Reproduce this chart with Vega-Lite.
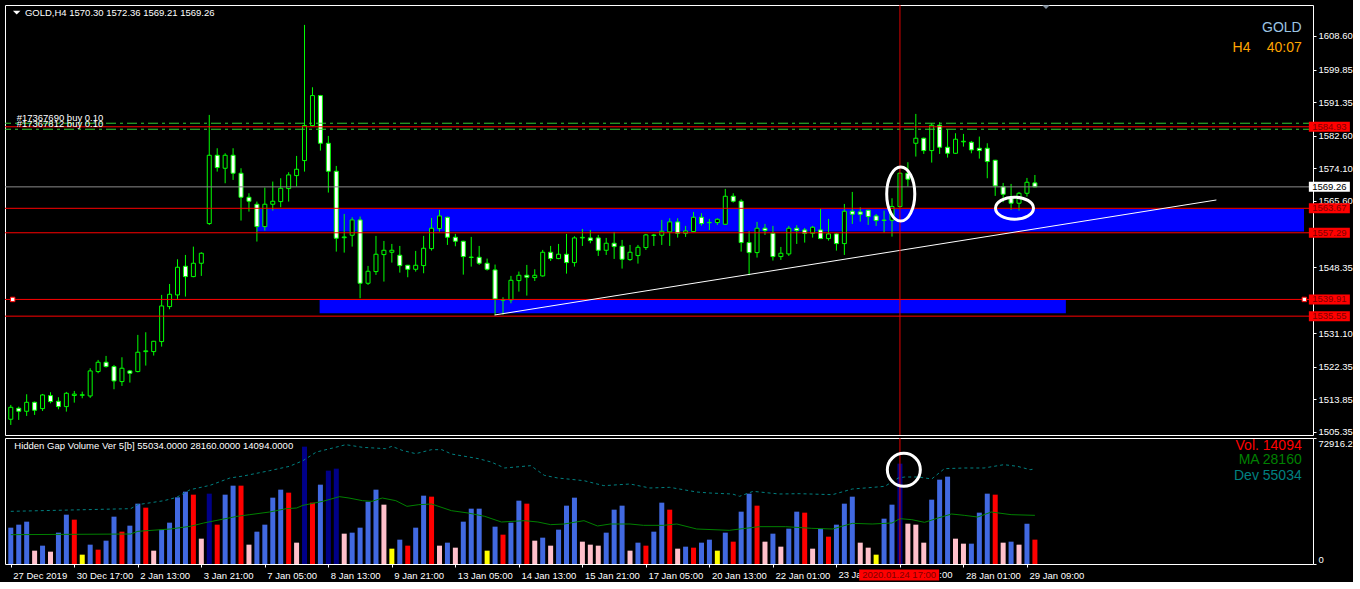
{
"$schema": "https://vega.github.io/schema/vega-lite/v6.json",
"background": "#000000",
"padding": {"left": 4, "top": 4, "right": 0, "bottom": 0},
"spacing": 3,
"bounds": "flush",
"config": {"view": {"stroke": "#FFFFFF", "strokeWidth": 1}, "font": "Liberation Sans"},
"datasets": {
"candles": [
{"i":0,"o":1508.67,"h":1512.40,"l":1507.18,"c":1511.79},
{"i":1,"o":1511.53,"h":1511.96,"l":1508.49,"c":1510.75},
{"i":2,"o":1510.75,"h":1515.18,"l":1509.53,"c":1513.09},
{"i":3,"o":1513.09,"h":1513.27,"l":1509.79,"c":1511.01},
{"i":4,"o":1511.44,"h":1515.26,"l":1510.83,"c":1515.00},
{"i":5,"o":1514.83,"h":1515.70,"l":1512.83,"c":1513.27},
{"i":6,"o":1513.35,"h":1514.40,"l":1511.27,"c":1511.96},
{"i":7,"o":1511.96,"h":1515.79,"l":1510.66,"c":1515.44},
{"i":8,"o":1514.87,"h":1516.05,"l":1513.00,"c":1515.22},
{"i":9,"o":1514.92,"h":1515.87,"l":1514.14,"c":1515.05},
{"i":10,"o":1514.74,"h":1521.97,"l":1514.22,"c":1521.27},
{"i":11,"o":1521.10,"h":1524.14,"l":1520.66,"c":1523.53},
{"i":12,"o":1523.53,"h":1525.18,"l":1522.14,"c":1522.40},
{"i":13,"o":1522.40,"h":1522.83,"l":1516.49,"c":1518.66},
{"i":14,"o":1518.49,"h":1524.83,"l":1517.36,"c":1521.97},
{"i":15,"o":1521.27,"h":1521.53,"l":1518.23,"c":1520.66},
{"i":16,"o":1521.10,"h":1530.66,"l":1520.90,"c":1526.14},
{"i":17,"o":1526.30,"h":1531.35,"l":1522.66,"c":1526.50},
{"i":18,"o":1526.31,"h":1529.10,"l":1525.27,"c":1529.00},
{"i":19,"o":1528.92,"h":1541.09,"l":1527.61,"c":1538.21},
{"i":20,"o":1538.04,"h":1543.94,"l":1537.35,"c":1541.25},
{"i":21,"o":1541.08,"h":1550.38,"l":1540.04,"c":1548.30},
{"i":22,"o":1548.56,"h":1551.51,"l":1540.65,"c":1545.86},
{"i":23,"o":1545.86,"h":1553.68,"l":1545.70,"c":1549.34},
{"i":24,"o":1549.34,"h":1552.21,"l":1546.04,"c":1551.95},
{"i":25,"o":1559.69,"h":1588.02,"l":1559.34,"c":1577.50},
{"i":26,"o":1577.50,"h":1579.33,"l":1573.24,"c":1574.29},
{"i":27,"o":1574.11,"h":1578.02,"l":1570.20,"c":1577.50},
{"i":28,"o":1577.50,"h":1579.33,"l":1571.07,"c":1572.81},
{"i":29,"o":1572.81,"h":1574.11,"l":1560.47,"c":1566.55},
{"i":30,"o":1566.55,"h":1567.59,"l":1562.81,"c":1565.51},
{"i":31,"o":1564.73,"h":1565.42,"l":1555.00,"c":1558.90},
{"i":32,"o":1558.90,"h":1569.07,"l":1557.86,"c":1564.73},
{"i":33,"o":1564.73,"h":1570.64,"l":1563.07,"c":1565.51},
{"i":34,"o":1565.42,"h":1571.51,"l":1563.94,"c":1568.90},
{"i":35,"o":1568.81,"h":1573.07,"l":1565.42,"c":1572.38},
{"i":36,"o":1572.20,"h":1577.33,"l":1569.33,"c":1573.85},
{"i":37,"o":1576.11,"h":1611.49,"l":1573.24,"c":1585.24},
{"i":38,"o":1585.24,"h":1595.23,"l":1584.98,"c":1593.06},
{"i":39,"o":1593.06,"h":1593.24,"l":1578.72,"c":1580.63},
{"i":40,"o":1580.63,"h":1582.54,"l":1567.77,"c":1573.33},
{"i":41,"o":1573.33,"h":1574.72,"l":1552.38,"c":1555.86},
{"i":42,"o":1556.00,"h":1562.20,"l":1552.12,"c":1556.20},
{"i":43,"o":1556.64,"h":1561.33,"l":1553.68,"c":1560.64},
{"i":44,"o":1560.64,"h":1561.51,"l":1540.21,"c":1544.12},
{"i":45,"o":1544.12,"h":1548.65,"l":1543.69,"c":1547.25},
{"i":46,"o":1547.17,"h":1556.47,"l":1546.30,"c":1551.69},
{"i":47,"o":1551.60,"h":1555.16,"l":1544.56,"c":1552.73},
{"i":48,"o":1552.21,"h":1554.38,"l":1549.51,"c":1552.73},
{"i":49,"o":1551.43,"h":1553.86,"l":1546.90,"c":1548.73},
{"i":50,"o":1548.82,"h":1548.90,"l":1545.69,"c":1547.77},
{"i":51,"o":1547.77,"h":1552.56,"l":1547.17,"c":1548.82},
{"i":52,"o":1548.73,"h":1556.47,"l":1546.73,"c":1553.25},
{"i":53,"o":1553.16,"h":1561.16,"l":1552.64,"c":1558.47},
{"i":54,"o":1558.38,"h":1563.25,"l":1557.60,"c":1561.68},
{"i":55,"o":1561.33,"h":1561.50,"l":1554.12,"c":1556.12},
{"i":56,"o":1556.12,"h":1556.99,"l":1553.77,"c":1555.08},
{"i":57,"o":1555.08,"h":1555.20,"l":1546.38,"c":1551.08},
{"i":58,"o":1550.85,"h":1556.21,"l":1548.47,"c":1550.95},
{"i":59,"o":1550.90,"h":1553.86,"l":1548.91,"c":1549.34},
{"i":60,"o":1549.34,"h":1550.56,"l":1547.43,"c":1547.77},
{"i":61,"o":1547.60,"h":1549.00,"l":1535.87,"c":1540.04},
{"i":62,"o":1539.70,"h":1540.47,"l":1535.95,"c":1539.85},
{"i":63,"o":1539.78,"h":1546.04,"l":1538.91,"c":1544.90},
{"i":64,"o":1544.82,"h":1547.17,"l":1541.95,"c":1546.21},
{"i":65,"o":1546.21,"h":1548.91,"l":1540.91,"c":1545.69},
{"i":66,"o":1545.60,"h":1547.77,"l":1544.73,"c":1546.21},
{"i":67,"o":1546.04,"h":1552.82,"l":1545.86,"c":1552.21},
{"i":68,"o":1552.21,"h":1553.86,"l":1549.95,"c":1550.56},
{"i":69,"o":1550.56,"h":1554.38,"l":1550.40,"c":1551.69},
{"i":70,"o":1551.69,"h":1556.99,"l":1546.64,"c":1549.51},
{"i":71,"o":1549.51,"h":1556.38,"l":1548.47,"c":1555.95},
{"i":72,"o":1555.95,"h":1558.29,"l":1553.86,"c":1556.10},
{"i":73,"o":1555.95,"h":1558.03,"l":1554.56,"c":1555.25},
{"i":74,"o":1555.95,"h":1556.73,"l":1551.25,"c":1552.73},
{"i":75,"o":1552.73,"h":1555.95,"l":1551.51,"c":1554.56},
{"i":76,"o":1554.56,"h":1557.51,"l":1550.47,"c":1553.68},
{"i":77,"o":1553.77,"h":1555.42,"l":1547.95,"c":1550.38},
{"i":78,"o":1550.30,"h":1554.12,"l":1549.95,"c":1552.21},
{"i":79,"o":1551.34,"h":1554.12,"l":1549.25,"c":1553.51},
{"i":80,"o":1553.43,"h":1556.99,"l":1552.82,"c":1556.73},
{"i":81,"o":1556.70,"h":1556.99,"l":1553.86,"c":1556.60},
{"i":82,"o":1556.64,"h":1560.64,"l":1554.12,"c":1557.69},
{"i":83,"o":1557.51,"h":1561.07,"l":1553.86,"c":1560.12},
{"i":84,"o":1560.12,"h":1561.07,"l":1556.03,"c":1557.16},
{"i":85,"o":1557.16,"h":1559.08,"l":1556.21,"c":1557.77},
{"i":86,"o":1557.60,"h":1562.73,"l":1557.50,"c":1561.33},
{"i":87,"o":1561.33,"h":1562.38,"l":1559.16,"c":1559.69},
{"i":88,"o":1559.90,"h":1560.90,"l":1558.03,"c":1560.00},
{"i":89,"o":1559.95,"h":1561.07,"l":1559.34,"c":1560.81},
{"i":90,"o":1559.51,"h":1568.73,"l":1559.40,"c":1566.81},
{"i":91,"o":1566.81,"h":1567.59,"l":1565.16,"c":1565.51},
{"i":92,"o":1565.51,"h":1566.03,"l":1552.38,"c":1554.73},
{"i":93,"o":1554.73,"h":1557.69,"l":1546.21,"c":1552.12},
{"i":94,"o":1552.12,"h":1560.12,"l":1550.82,"c":1558.47},
{"i":95,"o":1558.47,"h":1559.60,"l":1556.73,"c":1557.86},
{"i":96,"o":1557.16,"h":1559.08,"l":1550.04,"c":1551.08},
{"i":97,"o":1551.08,"h":1553.60,"l":1550.21,"c":1551.95},
{"i":98,"o":1551.77,"h":1559.08,"l":1551.25,"c":1558.47},
{"i":99,"o":1558.47,"h":1559.25,"l":1554.38,"c":1557.86},
{"i":100,"o":1558.03,"h":1558.55,"l":1554.73,"c":1557.16},
{"i":101,"o":1557.16,"h":1559.08,"l":1556.03,"c":1558.73},
{"i":102,"o":1558.03,"h":1563.51,"l":1555.70,"c":1555.77},
{"i":103,"o":1555.77,"h":1560.90,"l":1555.25,"c":1556.99},
{"i":104,"o":1556.99,"h":1557.16,"l":1552.64,"c":1554.47},
{"i":105,"o":1554.47,"h":1564.81,"l":1551.51,"c":1562.90},
{"i":106,"o":1562.90,"h":1567.94,"l":1559.60,"c":1562.12},
{"i":107,"o":1562.73,"h":1563.94,"l":1560.21,"c":1562.12},
{"i":108,"o":1563.16,"h":1563.25,"l":1559.34,"c":1561.51},
{"i":109,"o":1561.68,"h":1562.20,"l":1559.08,"c":1560.47},
{"i":110,"o":1560.50,"h":1563.07,"l":1557.34,"c":1560.60},
{"i":111,"o":1560.55,"h":1566.29,"l":1556.29,"c":1564.12},
{"i":112,"o":1564.12,"h":1573.00,"l":1563.90,"c":1572.81},
{"i":113,"o":1572.81,"h":1575.68,"l":1569.33,"c":1571.25},
{"i":114,"o":1580.63,"h":1588.28,"l":1577.16,"c":1581.94},
{"i":115,"o":1581.94,"h":1582.10,"l":1577.85,"c":1578.72},
{"i":116,"o":1578.72,"h":1585.85,"l":1575.59,"c":1585.33},
{"i":117,"o":1585.33,"h":1586.11,"l":1577.85,"c":1579.59},
{"i":118,"o":1579.59,"h":1584.28,"l":1576.89,"c":1578.02},
{"i":119,"o":1578.02,"h":1583.24,"l":1577.85,"c":1581.68},
{"i":120,"o":1581.00,"h":1583.07,"l":1579.76,"c":1581.15},
{"i":121,"o":1580.89,"h":1581.24,"l":1578.02,"c":1578.89},
{"i":122,"o":1579.33,"h":1582.37,"l":1576.63,"c":1578.72},
{"i":123,"o":1579.33,"h":1580.63,"l":1571.51,"c":1575.85},
{"i":124,"o":1576.20,"h":1576.30,"l":1566.90,"c":1569.51},
{"i":125,"o":1569.33,"h":1570.29,"l":1565.25,"c":1567.33},
{"i":126,"o":1566.29,"h":1570.03,"l":1563.25,"c":1564.99},
{"i":127,"o":1564.99,"h":1567.94,"l":1563.07,"c":1567.59},
{"i":128,"o":1567.59,"h":1571.59,"l":1566.72,"c":1570.46},
{"i":129,"o":1570.30,"h":1572.36,"l":1569.21,"c":1569.26}
],
"vol": [
{"i":0,"v":21026,"c":"b"},{"i":1,"v":22762,"c":"b"},{"i":2,"v":24498,"c":"b"},{"i":3,"v":7716,"c":"p"},{"i":4,"v":10610,"c":"b"},
{"i":5,"v":7137,"c":"p"},{"i":6,"v":18133,"c":"b"},{"i":7,"v":28549,"c":"b"},{"i":8,"v":25656,"c":"r"},{"i":9,"v":5401,"c":"y"},
{"i":10,"v":11188,"c":"b"},{"i":11,"v":8295,"c":"r"},{"i":12,"v":13503,"c":"b"},{"i":13,"v":27392,"c":"b"},{"i":14,"v":18711,"c":"r"},
{"i":15,"v":22184,"c":"b"},{"i":16,"v":34915,"c":"b"},{"i":17,"v":32600,"c":"r"},{"i":18,"v":7716,"c":"p"},{"i":19,"v":19869,"c":"b"},
{"i":20,"v":23920,"c":"b"},{"i":21,"v":38580,"c":"b"},{"i":22,"v":41859,"c":"b"},{"i":23,"v":40123,"c":"r"},{"i":24,"v":14660,"c":"p"},
{"i":25,"v":40702,"c":"n"},{"i":26,"v":22762,"c":"r"},{"i":27,"v":40123,"c":"b"},{"i":28,"v":45332,"c":"b"},{"i":29,"v":45332,"c":"r"},
{"i":30,"v":11188,"c":"p"},{"i":31,"v":18711,"c":"b"},{"i":32,"v":22762,"c":"b"},{"i":33,"v":38387,"c":"b"},{"i":34,"v":43017,"c":"b"},
{"i":35,"v":41281,"c":"r"},{"i":36,"v":12346,"c":"p"},{"i":37,"v":67901,"c":"n"},{"i":38,"v":35494,"c":"r"},{"i":39,"v":45910,"c":"b"},
{"i":40,"v":54012,"c":"n"},{"i":41,"v":55169,"c":"n"},{"i":42,"v":17554,"c":"p"},{"i":43,"v":18133,"c":"b"},{"i":44,"v":21026,"c":"b"},
{"i":45,"v":36072,"c":"b"},{"i":46,"v":43017,"c":"b"},{"i":47,"v":34336,"c":"p"},{"i":48,"v":8873,"c":"y"},{"i":49,"v":14082,"c":"b"},
{"i":50,"v":10610,"c":"r"},{"i":51,"v":21026,"c":"b"},{"i":52,"v":39545,"c":"b"},{"i":53,"v":38966,"c":"r"},{"i":54,"v":10610,"c":"p"},
{"i":55,"v":12346,"c":"b"},{"i":56,"v":9452,"c":"p"},{"i":57,"v":24498,"c":"b"},{"i":58,"v":32021,"c":"b"},{"i":59,"v":32021,"c":"b"},
{"i":60,"v":7716,"c":"y"},{"i":61,"v":21605,"c":"b"},{"i":62,"v":16975,"c":"r"},{"i":63,"v":23920,"c":"b"},{"i":64,"v":36651,"c":"b"},
{"i":65,"v":34915,"c":"r"},{"i":66,"v":13503,"c":"p"},{"i":67,"v":15239,"c":"b"},{"i":68,"v":10610,"c":"p"},{"i":69,"v":19869,"c":"b"},
{"i":70,"v":33758,"c":"b"},{"i":71,"v":38387,"c":"b"},{"i":72,"v":12924,"c":"p"},{"i":73,"v":11188,"c":"p"},{"i":74,"v":10610,"c":"p"},
{"i":75,"v":18133,"c":"b"},{"i":76,"v":31443,"c":"b"},{"i":77,"v":33758,"c":"b"},{"i":78,"v":7716,"c":"p"},{"i":79,"v":12346,"c":"b"},
{"i":80,"v":10610,"c":"r"},{"i":81,"v":18711,"c":"b"},{"i":82,"v":35494,"c":"b"},{"i":83,"v":31443,"c":"r"},{"i":84,"v":8873,"c":"p"},
{"i":85,"v":10031,"c":"b"},{"i":86,"v":9452,"c":"r"},{"i":87,"v":12346,"c":"b"},{"i":88,"v":14082,"c":"b"},{"i":89,"v":7716,"c":"y"},
{"i":90,"v":18133,"c":"b"},{"i":91,"v":12924,"c":"r"},{"i":92,"v":30285,"c":"b"},{"i":93,"v":40702,"c":"b"},{"i":94,"v":33758,"c":"r"},
{"i":95,"v":12924,"c":"p"},{"i":96,"v":17554,"c":"b"},{"i":97,"v":10031,"c":"p"},{"i":98,"v":20447,"c":"b"},{"i":99,"v":30285,"c":"b"},
{"i":100,"v":29707,"c":"r"},{"i":101,"v":8873,"c":"p"},{"i":102,"v":20447,"c":"b"},{"i":103,"v":15818,"c":"r"},{"i":104,"v":22762,"c":"b"},
{"i":105,"v":34915,"c":"b"},{"i":106,"v":38966,"c":"b"},{"i":107,"v":12346,"c":"p"},{"i":108,"v":9452,"c":"p"},{"i":109,"v":5401,"c":"y"},
{"i":110,"v":26234,"c":"b"},{"i":111,"v":34336,"c":"b"},{"i":112,"v":58063,"c":"n"},{"i":113,"v":23341,"c":"p"},{"i":114,"v":22762,"c":"p"},
{"i":115,"v":12346,"c":"p"},{"i":116,"v":37230,"c":"b"},{"i":117,"v":48804,"c":"b"},{"i":118,"v":50540,"c":"b"},{"i":119,"v":14660,"c":"p"},
{"i":120,"v":11767,"c":"p"},{"i":121,"v":11767,"c":"b"},{"i":122,"v":29707,"c":"b"},{"i":123,"v":40702,"c":"b"},{"i":124,"v":40123,"c":"r"},
{"i":125,"v":12346,"c":"p"},{"i":126,"v":12924,"c":"b"},{"i":127,"v":11188,"c":"p"},{"i":128,"v":23341,"c":"b"},{"i":129,"v":14094,"c":"r"}
],
"ma": [
{"i":0,"v":16975},{"i":15.1,"v":17361},{"i":16,"v":18904},{"i":20.1,"v":20255},{"i":22.6,"v":21798},{"i":24.3,"v":23727},{"i":28.5,"v":27585},{"i":30.1,"v":28549},{"i":32.6,"v":30092},{"i":34.7,"v":32021},{"i":36,"v":32407},{"i":36.8,"v":33950},{"i":39.3,"v":36265},{"i":41.4,"v":38966},{"i":42.6,"v":38194},{"i":44.3,"v":36651},{"i":45.5,"v":36265},{"i":46.8,"v":38194},{"i":48.5,"v":36651},{"i":49.9,"v":33372},{"i":51.4,"v":34336},{"i":53,"v":34722},{"i":55.5,"v":30864},{"i":57.6,"v":29514},{"i":59.7,"v":27585},{"i":61.8,"v":24305},{"i":64.7,"v":25077},{"i":66.4,"v":24305},{"i":68,"v":22762},{"i":69.7,"v":23148},{"i":72.2,"v":25077},{"i":73.9,"v":21991},{"i":75.5,"v":23148},{"i":78,"v":23148},{"i":79.7,"v":22376},{"i":82.2,"v":22376},{"i":83.9,"v":23148},{"i":86.4,"v":20255},{"i":90.5,"v":19483},{"i":92.2,"v":20447},{"i":94.3,"v":21605},{"i":97.6,"v":21605},{"i":100.9,"v":20640},{"i":103.5,"v":20255},{"i":106,"v":23534},{"i":108.5,"v":23148},{"i":111,"v":23727},{"i":112,"v":26234},{"i":113.5,"v":25656},{"i":115.1,"v":24113},{"i":116.8,"v":26620},{"i":118.5,"v":28935},{"i":120.1,"v":28163},{"i":121.8,"v":27199},{"i":123.5,"v":30092},{"i":126,"v":28549},{"i":129,"v":28160}
],
"dev": [
{"i":0,"v":30478},{"i":15.1,"v":32021},{"i":16,"v":34336},{"i":19.3,"v":36651},{"i":20.9,"v":38580},{"i":22.6,"v":43017},{"i":25.1,"v":45524},{"i":27.6,"v":49768},{"i":29.3,"v":50926},{"i":32.6,"v":54012},{"i":35.1,"v":56520},{"i":36.8,"v":59799},{"i":38.5,"v":64814},{"i":40.9,"v":67515},{"i":42.2,"v":69058},{"i":44.3,"v":67515},{"i":47.2,"v":66743},{"i":48,"v":68094},{"i":49.3,"v":65779},{"i":51,"v":63850},{"i":53,"v":66165},{"i":54.3,"v":66165},{"i":55.5,"v":63657},{"i":58.9,"v":60956},{"i":60.5,"v":59027},{"i":62.2,"v":55555},{"i":65.5,"v":56906},{"i":67.2,"v":51311},{"i":68.9,"v":49768},{"i":72.2,"v":48225},{"i":74.7,"v":45332},{"i":78,"v":46296},{"i":80.5,"v":43981},{"i":83,"v":44367},{"i":86.4,"v":41666},{"i":88,"v":41088},{"i":90.9,"v":40509},{"i":91.8,"v":39159},{"i":93.5,"v":42052},{"i":96.8,"v":40509},{"i":99.3,"v":40702},{"i":103.5,"v":40123},{"i":106,"v":43403},{"i":107.6,"v":43981},{"i":110.1,"v":44946},{"i":111.8,"v":49768},{"i":112.6,"v":50347},{"i":114.3,"v":50347},{"i":116,"v":49190},{"i":117.6,"v":55169},{"i":120.1,"v":55555},{"i":122.6,"v":55555},{"i":125.1,"v":57484},{"i":126.8,"v":56520},{"i":128.4,"v":54591},{"i":129,"v":55034}
]
},
"vconcat": [
{
"width": 1308, "height": 430,
"layer": [
{"data": {"values": [{"i":30.99,"i2":162.9,"p":1557.6,"p2":1563.5},{"i":38.9,"i2":132.9,"p":1536.3,"p2":1539.75}]},
 "mark": {"type": "rect", "color": "#0000FF"},
 "encoding": {
  "x": {"field": "i", "type": "quantitative", "scale": {"domain": [-0.1, 163.4], "nice": false, "zero": false}, "axis": null},
  "x2": {"field": "i2"},
  "y": {"field": "p", "type": "quantitative", "scale": {"domain": [1504.56, 1616.68], "nice": false, "zero": false},
   "axis": {"orient": "right", "values": [1608.6,1599.85,1591.35,1582.6,1574.1,1565.6,1548.35,1531.1,1522.35,1513.85,1505.35], "format": ".2f", "title": null, "grid": false, "domain": false, "tickSize": 3, "tickColor": "#FFFFFF", "labelColor": "#FFFFFF", "labelFont": "Liberation Sans", "labelFontSize": 9.5, "labelPadding": 2, "labelOverlap": false, "labelFlush": false, "labelBound": false, "zindex": 0}},
  "y2": {"field": "p2"}}},
{"data": {"name": "candles"}, "mark": {"type": "rule", "color": "#00FF00", "strokeWidth": 1, "clip": true},
 "encoding": {"x": {"field": "i", "type": "quantitative", "axis": null}, "y": {"field": "l", "type": "quantitative"}, "y2": {"field": "h"}}},
{"data": {"name": "candles"}, "mark": {"type": "bar", "size": 4, "stroke": "#00FF00", "strokeWidth": 1, "clip": true},
 "encoding": {"x": {"field": "i", "type": "quantitative", "axis": null}, "y": {"field": "o", "type": "quantitative"}, "y2": {"field": "c"},
  "fill": {"condition": {"test": "datum.c >= datum.o", "value": "#000000"}, "value": "#FFFFFF"}}},
{"data": {"values": [{"p":1584.93},{"p":1563.67},{"p":1557.29},{"p":1539.91},{"p":1535.55}]}, "mark": {"type": "rule", "color": "#FF0000", "strokeWidth": 1},
 "encoding": {"y": {"field": "p", "type": "quantitative"}}},
{"data": {"values": [{"p":1585.85},{"p":1584.28}]}, "mark": {"type": "rule", "color": "#32CD32", "strokeWidth": 1, "strokeDash": [10, 4, 3, 4]},
 "encoding": {"y": {"field": "p", "type": "quantitative"}}},
{"data": {"values": [{"p":1569.26}]}, "mark": {"type": "rule", "color": "#8C8C8C", "strokeWidth": 1},
 "encoding": {"y": {"field": "p", "type": "quantitative"}}},
{"data": {"values": [{"i":60.94,"p":1535.85},{"i":151.86,"p":1565.84}]}, "mark": {"type": "line", "color": "#FFFFFF", "strokeWidth": 1},
 "encoding": {"x": {"field": "i", "type": "quantitative", "axis": null}, "y": {"field": "p", "type": "quantitative"}}},
{"data": {"values": [{"i":112}]}, "mark": {"type": "rule", "color": "#E00000", "strokeWidth": 1},
 "encoding": {"x": {"field": "i", "type": "quantitative", "axis": null}}},
{"data": {"values": [{"i":0.24,"p":1539.91},{"i":162.94,"p":1539.91}]}, "mark": {"type": "point", "shape": "square", "size": 20, "filled": true, "fill": "#FFFFFF", "stroke": "#FF0000", "strokeWidth": 1, "opacity": 1},
 "encoding": {"x": {"field": "i", "type": "quantitative", "axis": null}, "y": {"field": "p", "type": "quantitative"}}},
{"data": {"values": [{"i":112.1,"p":1567.4}]}, "mark": {"type": "point", "shape": "M0,-1A0.52,1,0,1,1,0,1A0.52,1,0,1,1,0,-1Z", "size": 2916, "filled": false, "stroke": "#FFFFFF", "strokeWidth": 3, "opacity": 1},
 "encoding": {"x": {"field": "i", "type": "quantitative", "axis": null}, "y": {"field": "p", "type": "quantitative"}}},
{"data": {"values": [{"i":126.43,"p":1563.7}]}, "mark": {"type": "point", "shape": "M-1,0A1,0.58,0,1,1,1,0A1,0.58,0,1,1,-1,0Z", "size": 1444, "filled": false, "stroke": "#FFFFFF", "strokeWidth": 3, "opacity": 1},
 "encoding": {"x": {"field": "i", "type": "quantitative", "axis": null}, "y": {"field": "p", "type": "quantitative"}}},
{"data": {"values": [{"p":1584.93},{"p":1563.67},{"p":1557.29},{"p":1539.91},{"p":1535.55}]}, "mark": {"type": "point", "shape": "M-1,-0.244L1,-0.244L1,0.244L-1,0.244Z", "size": 1681, "filled": true, "fill": "#FF0000", "strokeWidth": 0, "opacity": 1},
 "encoding": {"x": {"datum": 166.09, "type": "quantitative", "axis": null}, "y": {"field": "p", "type": "quantitative"}}},
{"data": {"values": [{"p":1569.26}]}, "mark": {"type": "point", "shape": "M-1,-0.244L1,-0.244L1,0.244L-1,0.244Z", "size": 1681, "filled": true, "fill": "#FFFFFF", "strokeWidth": 0, "opacity": 1},
 "encoding": {"x": {"datum": 166.09, "type": "quantitative", "axis": null}, "y": {"field": "p", "type": "quantitative"}}},
{"data": {"values": [{"p":1584.93,"t":"1584.93"},{"p":1563.67,"t":"1563.67"},{"p":1557.29,"t":"1557.29"},{"p":1539.91,"t":"1539.91"},{"p":1535.55,"t":"1535.55"}]}, "mark": {"type": "text", "color": "#800000", "fontSize": 9.5, "align": "center", "baseline": "middle", "font": "Liberation Sans"},
 "encoding": {"x": {"datum": 166.09, "type": "quantitative", "axis": null}, "y": {"field": "p", "type": "quantitative"}, "text": {"field": "t"}}},
{"data": {"values": [{"p":1569.26,"t":"1569.26"}]}, "mark": {"type": "text", "color": "#000000", "fontSize": 9.5, "align": "center", "baseline": "middle", "font": "Liberation Sans"},
 "encoding": {"x": {"datum": 166.09, "type": "quantitative", "axis": null}, "y": {"field": "p", "type": "quantitative"}, "text": {"field": "t"}}},
{"data": {"values": [{"i":0.74,"p":1614.68},{"i":130.4,"p":1616.1}]}, "mark": {"type": "point", "shape": "M-1,-0.5L1,-0.5L0,0.5Z", "size": 56, "filled": true, "strokeWidth": 0, "opacity": 1},
 "encoding": {"x": {"field": "i", "type": "quantitative", "axis": null}, "y": {"field": "p", "type": "quantitative"},
  "fill": {"condition": {"test": "datum.i < 10", "value": "#FFFFFF"}, "value": "#7F8C9A"}}},
{"data": {"values": [{"i":1.78,"p":1614.7,"t":"GOLD,H4  1570.30 1572.36 1569.21 1569.26"},{"i":0.74,"p":1587.3,"t":"#17367690 buy 0.10"},{"i":0.74,"p":1585.75,"t":"#17367812 buy 0.10"}]}, "mark": {"type": "text", "color": "#FFFFFF", "fontSize": 9.5, "align": "left", "baseline": "middle", "font": "Liberation Sans"},
 "encoding": {"x": {"field": "i", "type": "quantitative", "axis": null}, "y": {"field": "p", "type": "quantitative"}, "text": {"field": "t"}}},
{"data": {"values": [{"i":162.61,"p":1610.69,"t":"GOLD"}]}, "mark": {"type": "text", "color": "#9BC4E2", "fontSize": 14, "align": "right", "baseline": "middle", "font": "Liberation Sans"},
 "encoding": {"x": {"field": "i", "type": "quantitative", "axis": null}, "y": {"field": "p", "type": "quantitative"}, "text": {"field": "t"}}},
{"data": {"values": [{"i":162.61,"p":1605.47,"t":"40:07"}]}, "mark": {"type": "text", "color": "#FFA500", "fontSize": 14, "align": "right", "baseline": "middle", "font": "Liberation Sans"},
 "encoding": {"x": {"field": "i", "type": "quantitative", "axis": null}, "y": {"field": "p", "type": "quantitative"}, "text": {"field": "t"}}},
{"data": {"values": [{"i":153.9,"p":1605.47,"t":"H4"}]}, "mark": {"type": "text", "color": "#FFA500", "fontSize": 14, "align": "left", "baseline": "middle", "font": "Liberation Sans"},
 "encoding": {"x": {"field": "i", "type": "quantitative", "axis": null}, "y": {"field": "p", "type": "quantitative"}, "text": {"field": "t"}}}
]
},
{
"width": 1308, "height": 126,
"layer": [
{"data": {"name": "vol"}, "mark": {"type": "bar", "size": 5},
 "encoding": {
  "x": {"field": "i", "type": "quantitative", "scale": {"domain": [-0.1, 163.4], "nice": false, "zero": false},
   "axis": {"orient": "bottom", "values": [0,8,16,24,32,40,48,56,64,72,80,88,96,104,112,120,128],
    "labelExpr": "['27 Dec 2019','30 Dec 17:00','2 Jan 13:00','3 Jan 21:00','7 Jan 05:00','8 Jan 13:00','9 Jan 21:00','13 Jan 05:00','14 Jan 13:00','15 Jan 21:00','17 Jan 05:00','20 Jan 13:00','22 Jan 01:00','','','28 Jan 01:00','29 Jan 09:00'][round(datum.value/8)]",
    "title": null, "grid": false, "domain": false, "tickSize": 3, "tickColor": "#FFFFFF", "labelColor": "#FFFFFF", "labelFont": "Liberation Sans", "labelFontSize": 9.5, "labelAlign": "left", "labelBaseline": "top", "labelOffset": 2, "labelPadding": 3, "labelOverlap": false, "labelFlush": false, "labelBound": false, "zindex": 0}},
  "y": {"field": "v", "type": "quantitative", "scale": {"domain": [0, 72916.2], "nice": false, "zero": false},
   "axis": {"orient": "right", "values": [0, 72916.2], "labelExpr": "datum.value > 0 ? '72916.2' : '0'", "title": null, "grid": false, "domain": false, "tickSize": 3, "tickColor": "#FFFFFF", "labelColor": "#FFFFFF", "labelFont": "Liberation Sans", "labelFontSize": 9.5, "labelPadding": 2, "labelOverlap": false, "labelFlush": true, "zindex": 0}},
  "color": {"field": "c", "type": "nominal", "scale": {"domain": ["b","r","p","y","n"], "range": ["#4169E1","#FF0000","#FFC0CB","#FFFF00","#000088"]}, "legend": null}}},
{"data": {"name": "ma"}, "mark": {"type": "line", "color": "#008000", "strokeWidth": 1},
 "encoding": {"x": {"field": "i", "type": "quantitative"}, "y": {"field": "v", "type": "quantitative"}}},
{"data": {"name": "dev"}, "mark": {"type": "line", "color": "#008080", "strokeWidth": 1, "strokeDash": [3, 3]},
 "encoding": {"x": {"field": "i", "type": "quantitative"}, "y": {"field": "v", "type": "quantitative"}}},
{"data": {"values": [{"i":112}]}, "mark": {"type": "rule", "color": "#E00000", "strokeWidth": 1},
 "encoding": {"x": {"field": "i", "type": "quantitative"}}},
{"data": {"values": [{"i":112.49,"v":54513}]}, "mark": {"type": "point", "shape": "circle", "size": 1089, "filled": false, "stroke": "#FFFFFF", "strokeWidth": 3, "opacity": 1},
 "encoding": {"x": {"field": "i", "type": "quantitative"}, "y": {"field": "v", "type": "quantitative"}}},
{"data": {"values": [{"i":104.25,"v":-3472,"t":"23 Jan"},{"i":116.95,"v":-3472,"t":":00"}]}, "mark": {"type": "text", "color": "#FFFFFF", "fontSize": 9.5, "align": "left", "baseline": "top", "font": "Liberation Sans"},
 "encoding": {"x": {"field": "i", "type": "quantitative"}, "y": {"field": "v", "type": "quantitative"}, "text": {"field": "t"}}},
{"data": {"values": [{"i":111.9,"v":-6366}]}, "mark": {"type": "point", "shape": "M-1,-0.1375L1,-0.1375L1,0.1375L-1,0.1375Z", "size": 6400, "filled": true, "fill": "#FF0000", "strokeWidth": 0, "opacity": 1},
 "encoding": {"x": {"field": "i", "type": "quantitative"}, "y": {"field": "v", "type": "quantitative"}}},
{"data": {"values": [{"i":111.9,"v":-6366,"t":"2020.01.24 17:00"}]}, "mark": {"type": "text", "color": "#800000", "fontSize": 9.5, "align": "center", "baseline": "middle", "font": "Liberation Sans"},
 "encoding": {"x": {"field": "i", "type": "quantitative"}, "y": {"field": "v", "type": "quantitative"}, "text": {"field": "t"}}},
{"data": {"values": [{"i":0.44,"v":68460,"t":"Hidden Gap Volume Ver 5[b] 55034.0000 28160.0000 14094.0000"}]}, "mark": {"type": "text", "color": "#FFFFFF", "fontSize": 9.5, "align": "left", "baseline": "middle", "font": "Liberation Sans"},
 "encoding": {"x": {"field": "i", "type": "quantitative"}, "y": {"field": "v", "type": "quantitative"}, "text": {"field": "t"}}},
{"data": {"values": [{"i":162.61,"v":68113,"t":"Vol.  14094"}]}, "mark": {"type": "text", "color": "#FF0000", "fontSize": 14, "align": "right", "baseline": "middle", "font": "Liberation Sans"},
 "encoding": {"x": {"field": "i", "type": "quantitative"}, "y": {"field": "v", "type": "quantitative"}, "text": {"field": "t"}}},
{"data": {"values": [{"i":162.61,"v":60358,"t":"MA  28160"}]}, "mark": {"type": "text", "color": "#008000", "fontSize": 14, "align": "right", "baseline": "middle", "font": "Liberation Sans"},
 "encoding": {"x": {"field": "i", "type": "quantitative"}, "y": {"field": "v", "type": "quantitative"}, "text": {"field": "t"}}},
{"data": {"values": [{"i":162.61,"v":51099,"t":"Dev  55034"}]}, "mark": {"type": "text", "color": "#008080", "fontSize": 14, "align": "right", "baseline": "middle", "font": "Liberation Sans"},
 "encoding": {"x": {"field": "i", "type": "quantitative"}, "y": {"field": "v", "type": "quantitative"}, "text": {"field": "t"}}}
]
}
]
}
